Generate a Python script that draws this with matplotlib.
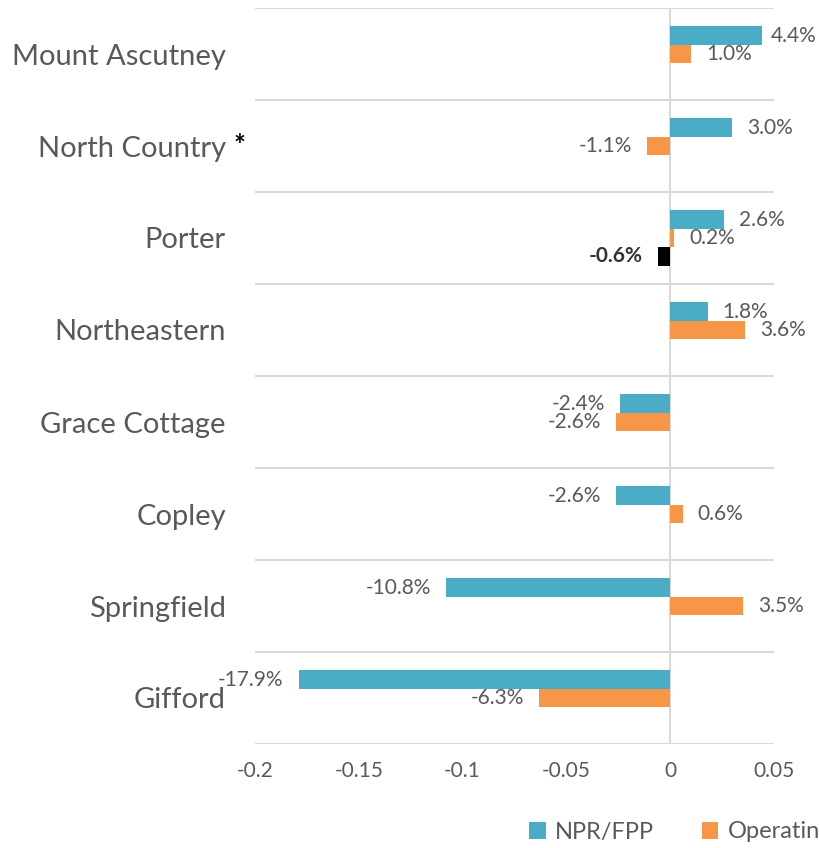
import matplotlib.pyplot as plt
import numpy as np

plt.rcParams['font.family'] = ['Lato', 'DejaVu Sans']

hospitals = ['Mount Ascutney', 'North Country', 'Porter', 'Northeastern',
             'Grace Cottage', 'Copley', 'Springfield', 'Gifford']
npr_fpp = [4.4, 3.0, 2.6, 1.8, -2.4, -2.6, -10.8, -17.9]
operating = [1.0, -1.1, 0.2, 3.6, -2.6, 0.6, 3.5, -6.3]
# third series only has a value for Porter
extra = [np.nan, np.nan, -0.6, np.nan, np.nan, np.nan, np.nan, np.nan]

teal = '#4BACC6'
orange = '#F79646'
grey_txt = '#595959'

fig = plt.figure(figsize=(8.19, 8.48), dpi=100)
W, H = 819, 848
ax = fig.add_axes([255 / W, 1 - 744 / H, (774 - 255) / W, (744 - 8) / H])

y = np.arange(len(hospitals))
h = 0.2
ax.barh(y - h, np.array(npr_fpp) / 100, height=h, color=teal, label='NPR/FPP')
ax.barh(y, np.array(operating) / 100, height=h, color=orange, label='Operating')
ax.barh(y + h, np.array(extra) / 100, height=h, color='black')

ax.set_xlim(-0.2, 0.05)
ax.set_ylim(len(hospitals) - 0.5, -0.5)

ax.set_yticks(y)
ax.set_yticklabels(hospitals, fontsize=21, color=grey_txt)
ax.set_yticks(np.arange(len(hospitals) + 1) - 0.5, minor=True)
ax.grid(which='minor', axis='y', color='#D9D9D9', lw=1.5)
ax.tick_params(axis='y', which='both', length=0, pad=21)
ax.set_xticks([-0.2, -0.15, -0.1, -0.05, 0, 0.05])
ax.set_xticklabels(['-0.2', '-0.15', '-0.1', '-0.05', '0', '0.05'])
ax.tick_params(axis='x', length=0, labelsize=15, labelcolor=grey_txt, pad=12)
for s in ax.spines.values():
    s.set_visible(False)
ax.axvline(0, color='#D9D9D9', lw=1.5, zorder=0.5)

fig.text(234 / W, 1 - 146 / H, '*', fontsize=20, fontweight='bold',
         color='black', va='center', ha='left')

# data labels
fig.canvas.draw()
rend = fig.canvas.get_renderer()
to_pix = ax.transData.transform
for vals, off, bold in [(npr_fpp, -h, False), (operating, 0, False), (extra, h, True)]:
    for i, v in enumerate(vals):
        if np.isnan(v):
            continue
        px, py = to_pix((v / 100, i + off))
        t = fig.text(0, 0, f'{v:.1f}%', fontsize=15, color=grey_txt if not bold else '#333333',
                     fontweight='bold' if bold else 'normal', va='center')
        tw = t.get_window_extent(rend).width
        if v >= 0:
            x0 = min(px + 15, W - 2 - tw)
        else:
            x0 = px - 15 - tw
        t.set_position((x0 / W, py / H))

leg = fig.legend(loc='center left', bbox_to_anchor=(508 / W, 1 - 832 / H), ncol=2,
                 frameon=False, fontsize=17, handlelength=0.7, handleheight=0.7,
                 handletextpad=0.4, columnspacing=2.0)
for t in leg.get_texts():
    t.set_color(grey_txt)

fig.savefig('out.png', dpi=100)
